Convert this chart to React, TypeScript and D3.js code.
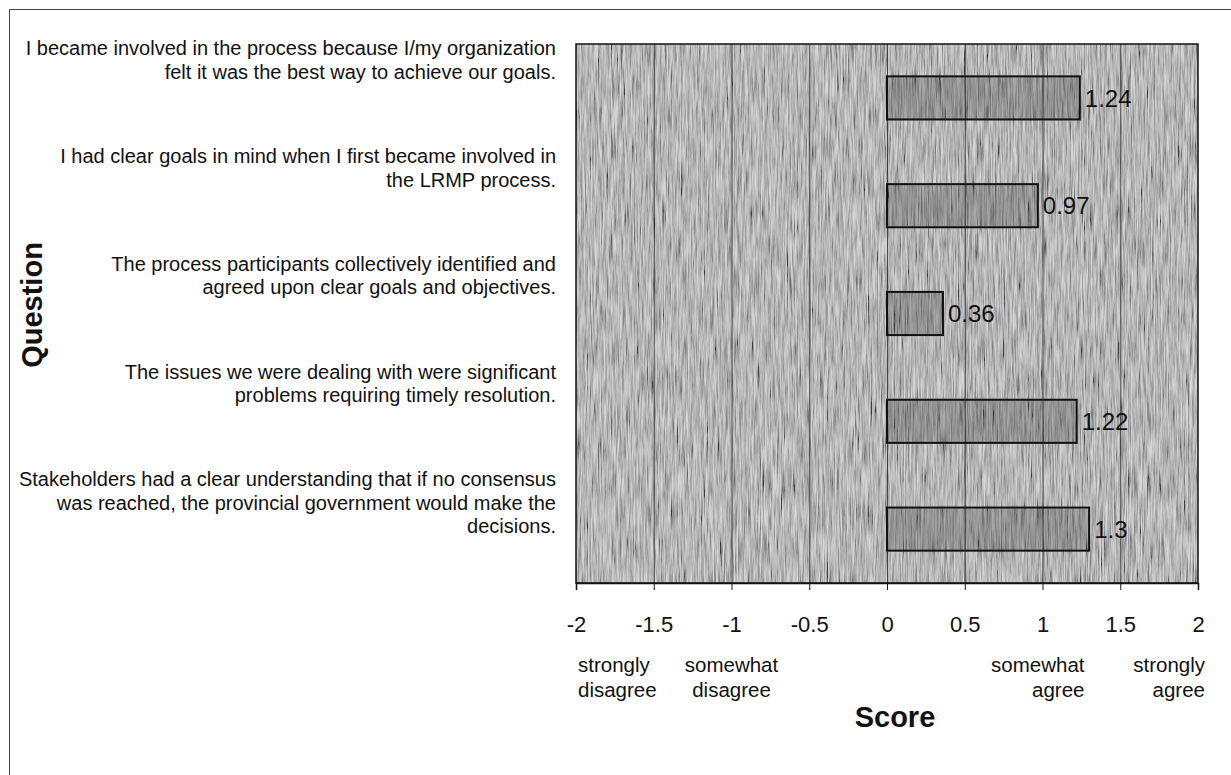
import React, { useEffect, useRef } from "react";
import * as d3 from "d3";

const questions: string[][] = [
  ["I became involved in the process because I/my organization", "felt it was the best way to achieve our goals."],
  ["I had clear goals in mind when I first became involved in", "the LRMP process."],
  ["The process participants collectively identified and", "agreed upon clear goals and objectives."],
  ["The issues we were dealing with were significant", "problems requiring timely resolution."],
  ["Stakeholders had a clear understanding that if no consensus", "was reached, the provincial government would make the", "decisions."],
];
const scores: number[] = [1.24, 0.97, 0.36, 1.22, 1.3];
const ticks: number[] = [-2, -1.5, -1, -0.5, 0, 0.5, 1, 1.5, 2];
const anchors: { value: number; lines: string[]; align: string }[] = [
  { value: -2, lines: ["strongly", "disagree"], align: "start" },
  { value: -1, lines: ["somewhat", "disagree"], align: "middle" },
  { value: 1, lines: ["somewhat", "agree"], align: "end" },
  { value: 2, lines: ["strongly", "agree"], align: "end" },
];

const W = 1231;
const H = 775;
const FONT = "'Liberation Sans', Arial, sans-serif";

export default function App() {
  const ref = useRef<SVGSVGElement>(null);

  useEffect(() => {
    const svg = d3.select(ref.current);
    svg.selectAll("*").remove();

    const x = d3.scaleLinear().domain([-2, 2]).range([576, 1198]);
    const keys = questions.map((_, i) => String(i));
    const y = d3.scaleBand<string>().domain(keys).range([44, 583]).paddingInner(0.6).paddingOuter(0.3);
    const step = y.step();

    const defs = svg.append("defs");
    const f = defs.append("filter").attr("id", "noise").attr("x", 0).attr("y", 0).attr("width", "100%").attr("height", "100%");
    f.append("feTurbulence").attr("type", "fractalNoise").attr("baseFrequency", "0.7 0.03").attr("numOctaves", 4).attr("seed", 11).attr("result", "t");
    f.append("feColorMatrix").attr("in", "t").attr("type", "matrix")
      .attr("values", "0.33 0.33 0.33 0 0  0.33 0.33 0.33 0 0  0.33 0.33 0.33 0 0  0 0 0 0 1").attr("result", "g");
    const ct = f.append("feComponentTransfer").attr("in", "g");
    ["feFuncR", "feFuncG", "feFuncB"].forEach((fn) => ct.append(fn).attr("type", "linear").attr("slope", 2.8).attr("intercept", -0.8));

    // outer frame
    svg.append("path").attr("d", `M9.5,${H} L9.5,9.5 L${W},9.5`).attr("fill", "none").attr("stroke", "#444").attr("stroke-width", 1);

    // plot area
    const [x0, x1] = x.range();
    svg.append("rect").attr("x", x0).attr("y", 44).attr("width", x1 - x0).attr("height", 539).attr("fill", "#9a9a9a");
    svg.append("rect").attr("x", x0).attr("y", 44).attr("width", x1 - x0).attr("height", 539)
      .attr("fill", "#fff").attr("filter", "url(#noise)").attr("opacity", 0.6);

    // gridlines
    svg.append("g").selectAll("line").data(ticks.slice(1, -1)).join("line")
      .attr("x1", (d) => x(d) + 0.5).attr("x2", (d) => x(d) + 0.5).attr("y1", 44).attr("y2", 583)
      .attr("stroke", "#111").attr("stroke-width", 1).attr("opacity", 0.7);

    // bars
    svg.append("g").selectAll("rect").data(scores).join("rect")
      .attr("x", x(0)).attr("y", (_, i) => y(keys[i])!)
      .attr("width", (d) => x(d) - x(0)).attr("height", y.bandwidth())
      .attr("fill", "rgba(40,40,40,0.25)").attr("stroke", "#111").attr("stroke-width", 2);

    // value labels
    svg.append("g").selectAll("text").data(scores).join("text")
      .attr("x", (d) => x(d) + 5).attr("y", (_, i) => y(keys[i])! + y.bandwidth() / 2)
      .attr("dy", "0.36em").attr("font-family", FONT).attr("font-size", 24).attr("fill", "#111")
      .text((d) => String(d));

    // plot border
    svg.append("rect").attr("x", x0).attr("y", 44).attr("width", x1 - x0).attr("height", 539)
      .attr("fill", "none").attr("stroke", "#111").attr("stroke-width", 1.5);

    // x axis
    const axis = d3.axisBottom(x).tickValues(ticks).tickSize(7).tickPadding(26).tickFormat((d) => String(d));
    const ga = svg.append("g").attr("transform", "translate(0,583)").call(axis);
    ga.select(".domain").attr("stroke", "#111").attr("stroke-width", 1.5);
    ga.selectAll(".tick line").attr("stroke", "#111");
    ga.selectAll(".tick text").attr("font-family", FONT).attr("font-size", 22).attr("fill", "#111");

    // anchors
    const ag = svg.append("g").selectAll("text").data(anchors).join("text")
      .attr("text-anchor", (d) => d.align)
      .attr("x", (d) => (d.align === "start" ? x(d.value) + 2 : d.align === "end" ? x(d.value) + 7 + (d.value === 1 ? 35 : 0) : x(d.value)))
      .attr("font-family", FONT).attr("font-size", 20.5).attr("fill", "#111");
    ag.selectAll("tspan").data((d) => d.lines.map((l) => ({ l, d }))).join("tspan")
      .attr("x", function () { return (this.parentNode as SVGTextElement).getAttribute("x"); })
      .attr("y", (_, i) => 672 + i * 25).text((t) => t.l);

    // question labels
    const qg = svg.append("g").selectAll("text").data(questions).join("text")
      .attr("text-anchor", "end").attr("font-family", FONT).attr("font-size", 20).attr("fill", "#111");
    qg.selectAll("tspan").data((d, i) => d.map((l) => ({ l, i }))).join("tspan")
      .attr("x", 556)
      .attr("y", (t, j) => y(keys[t.i])! - 0.3 * step + 4 + j * 23.5)
      .attr("dy", "0.36em").text((t) => t.l);

    // axis titles
    svg.append("text").attr("x", 895).attr("y", 727).attr("text-anchor", "middle")
      .attr("font-family", FONT).attr("font-weight", "bold").attr("font-size", 29).attr("fill", "#111").text("Score");
    svg.append("text").attr("transform", "translate(42,305) rotate(-90)").attr("text-anchor", "middle")
      .attr("font-family", FONT).attr("font-weight", "bold").attr("font-size", 29).attr("fill", "#111").text("Question");
  }, []);

  return (
    <svg ref={ref} width={W} height={H} style={{ position: "absolute", left: 0, top: 0, background: "#fff" }} />
  );
}
